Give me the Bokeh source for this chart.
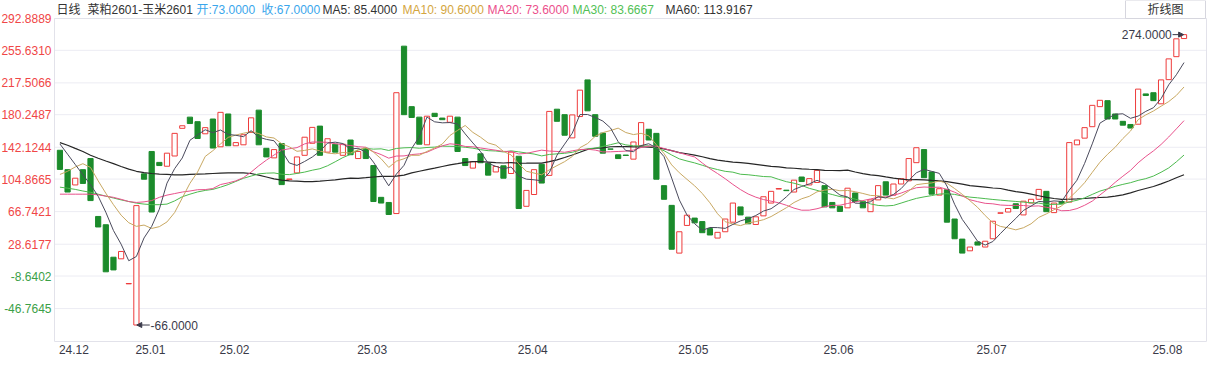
import numpy as np
import pandas as pd
from bokeh.plotting import figure
from bokeh.models import (ColumnDataSource, Range1d, LabelSet, Label, Arrow,
                          NormalHead)
from bokeh.core.properties import value
from bokeh.embed import file_html
from bokeh.resources import INLINE

# ---------------- data ----------------
opens = [138.6, 115.9, 98.0, 115.9, 128.9, 61.1, 51.4, 13.4, 11.5, -17.8,
         -66.0, 111.0, 137.2, 124.4, 119.9, 131.9, 164.3, 177.4, 172.1, 157.9,
         175.2, 142.7, 181.1, 143.9, 145.0, 159.5, 185.6, 140.9, 129.7, 146.5,
         104.2, 112.1, 132.7, 146.8, 166.9, 136.4, 145.7, 132.7, 150.6, 128.9,
         140.9, 120.7, 83.5, 77.5, 64.5, 260.5, 189.7, 177.4, 145.0, 181.9,
         176.3, 171.4, 177.4, 128.9, 117.7, 134.5, 123.3, 113.2, 120.4, 111.4,
         131.6, 73.0, 86.8, 122.2, 109.2, 186.7, 180.3, 153.1, 178.1, 221.0,
         180.3, 158.7, 140.2, 133.3, 133.0, 128.2, 143.9, 163.2, 158.4, 97.2,
         74.1, 18.2, 50.6, 59.2, 55.1, 46.9, 35.8, 43.2, 54.4, 72.3,
         60.3, 51.7, 61.8, 76.8, 93.2, 91.9, 89.7, 107.3, 98.0, 100.9,
         97.2, 77.5, 73.0, 71.2, 88.6, 78.6, 66.7, 80.5, 101.7, 86.1,
         99.1, 102.8, 124.1, 139.4, 113.2, 86.1, 92.4, 58.1, 34.6, 20.9,
         31.3, 25.3, 35.0, 64.8, 66.3, 76.0, 62.9, 76.8, 81.2, 90.5,
         65.6, 78.6, 77.9, 145.0, 152.8, 166.2, 189.7, 196.7, 181.1, 172.5,
         168.8, 169.1, 204.6, 206.0, 193.0, 221.3, 248.2, 269.4]
closes = [116.2, 89.7, 105.9, 99.8, 79.7, 48.8, -3.7, -1.5, 20.1, -17.4,
          73.8, 104.7, 66.3, 120.7, 135.2, 158.4, 167.3, 169.9, 152.4, 165.1,
          141.2, 183.0, 143.9, 147.6, 156.8, 176.6, 145.0, 130.8, 139.4, 98.4,
          105.0, 130.8, 153.9, 165.4, 132.7, 152.1, 136.4, 145.7, 133.4, 137.2,
          128.9, 78.6, 76.8, 63.4, 206.0, 180.3, 177.0, 145.7, 178.5, 178.1,
          174.4, 178.5, 137.2, 120.7, 125.2, 124.0, 109.5, 119.6, 105.9, 136.4,
          70.4, 91.6, 115.9, 100.2, 184.1, 172.5, 156.2, 180.0, 209.0, 184.8,
          155.0, 135.2, 139.8, 128.9, 132.5, 148.3, 171.0, 150.6, 104.7, 81.2,
          22.7, 43.2, 62.6, 53.6, 42.1, 39.4, 42.5, 58.1, 76.8, 62.9,
          52.5, 60.7, 84.2, 90.5, 93.8, 91.3, 103.6, 102.0, 105.4, 115.1,
          72.3, 71.2, 67.0, 94.2, 78.6, 71.2, 80.5, 97.2, 86.1, 99.1,
          105.4, 128.9, 141.6, 106.5, 87.2, 93.6, 54.4, 35.0, 18.2, 25.3,
          27.6, 32.1, 55.5, 65.4, 70.4, 70.4, 79.0, 81.2, 92.8, 66.7,
          76.8, 76.0, 147.6, 150.6, 165.1, 191.2, 197.1, 175.2, 175.2, 168.0,
          164.6, 210.2, 202.7, 196.7, 221.0, 245.6, 269.1, 274.0]

# moving-average values before a full window exists
ma5_head = [146.0, 134.0, 122.0, 110.0]
ma10_head = [110.3, 114.0, 119.0, 122.9, 118.5, 102.8, 88.3, 74.9, 62.6]
ma20_head = [87.2, 87.2, 87.2, 87.2, 87.2, 86.4, 84.9, 83.5, 81.2, 78.6,
             77.5, 78.2, 79.7, 83.5, 86.1, 87.9, 89.7, 90.9, 92.4]
ma30_head = [95.4, 94.2, 92.8, 90.9, 89.4, 87.2, 84.9, 82.7, 80.5, 78.6,
             76.7, 75.6, 74.9, 74.9, 75.6, 79.3, 84.2, 87.2, 89.8, 91.6,
             92.8, 95.4, 98.4, 102.1, 105.8, 108.4, 111.0, 111.8, 112.1]
ma60_head = [147.5, 144.5, 140.8, 137.2, 132.7, 129.3, 126.0, 122.9, 119.6, 116.6,
             114.0, 112.5, 111.4, 110.7, 110.3, 109.9, 109.9, 110.3, 110.7, 111.0,
             111.4, 111.8, 112.1, 112.1, 112.1, 111.4, 109.5, 107.3, 105.1, 103.6,
             102.8, 102.4, 102.0, 102.0, 102.4, 103.2, 104.0, 105.1, 105.9, 105.8,
             106.5, 107.3, 108.1, 108.1, 108.4, 109.5, 112.1, 114.0, 115.9, 117.7,
             119.6, 121.5, 122.9, 124.4, 125.2, 125.2, 124.8, 124.1, 123.7]

xtick_idx = [0, 10, 21, 39, 60, 81, 100, 120, 143]
xtick_labels = ["24.12", "25.01", "25.02", "25.03", "25.04", "25.05", "25.06", "25.07", "25.08"]
ytick_vals = [292.8889, 255.6310, 217.5066, 180.2487, 142.1244, 104.8665,
              66.7421, 28.6177, -8.6402, -46.7645]

header_texts = ["日线", "菜粕2601-玉米2601", "开:73.0000", "收:67.0000", "MA5: 85.4000",
                "MA10: 90.6000", "MA20: 73.6000", "MA30: 83.6667", "MA60: 113.9167"]

# ---------------- styles / layout ----------------
header_colors = ["#333333", "#333333", "#3aa6ec", "#3aa6ec", "#333333",
                 "#d4a63e", "#ec4f8c", "#52bf56", "#333333"]
header_offsets_px = [2, 33, 142, 207, 268, 348, 433, 518, 611]

RED = "#ee3b3b"
GREEN = "#1b8b2b"
MA_COLORS = {"ma5": "#4a4a5c", "ma10": "#c8a862", "ma20": "#e8528c",
             "ma30": "#4cba4e", "ma60": "#262626"}
FONT_STR = "'Liberation Sans', 'Noto Sans CJK SC', sans-serif"
FONT = value(FONT_STR)

W, H = 1208, 357
BL, BR, BT, BB = 54, 2, 18, 16          # room around the plot area (px)
FW, FH = W - BL - BR, H - BT - BB
X0, X1 = -0.71, 149.94                  # plot-area extent in candle units
Y0, Y1 = -85.3, 292.8889                # plot-area extent in value units
PXX = (X1 - X0) / FW
PXY = (Y1 - Y0) / FH

# the frame covers the whole canvas; the plot area is drawn inside it
p = figure(width=W, height=H,
           x_range=Range1d(X0 - BL * PXX, X1 + BR * PXX),
           y_range=Range1d(Y0 - BB * PXY, Y1 + BT * PXY),
           x_axis_type=None, y_axis_type=None, toolbar_location=None,
           output_backend="svg", min_border=0,
           min_border_left=0, min_border_right=0, min_border_top=0, min_border_bottom=0)
p.outline_line_color = None
p.background_fill_color = "white"
p.border_fill_color = "white"
p.xgrid.visible = False
p.ygrid.visible = False

# horizontal grid lines across the plot area
p.segment(x0=[X0] * len(ytick_vals), x1=[X1] * len(ytick_vals), y0=ytick_vals, y1=ytick_vals,
          line_color="#ececf3", line_width=1)
# plot-area border
p.quad(left=[X0], right=[X1], bottom=[Y0], top=[Y1], fill_color=None,
       line_color="#e2e2ea", line_width=1)

o = np.array(opens, dtype=float)
c = np.array(closes, dtype=float)
idx = np.arange(len(o))
up = c >= o

src_up = ColumnDataSource(dict(x=idx[up], top=np.maximum(o, c)[up], bottom=np.minimum(o, c)[up]))
src_dn = ColumnDataSource(dict(x=idx[~up], top=np.maximum(o, c)[~up], bottom=np.minimum(o, c)[~up]))
p.vbar(x="x", top="top", bottom="bottom", width=0.68, source=src_up,
       fill_color="white", line_color=RED, line_width=1)
p.vbar(x="x", top="top", bottom="bottom", width=0.68, source=src_dn,
       fill_color=GREEN, line_color=GREEN, line_width=1)

cl = pd.Series(closes, dtype=float)


def moving_avg(n, head):
    s = cl.rolling(n).mean().to_numpy()
    s[:len(head)] = head
    return s


ma_src = ColumnDataSource(dict(
    x=idx,
    ma5=moving_avg(5, ma5_head),
    ma10=moving_avg(10, ma10_head),
    ma20=moving_avg(20, ma20_head),
    ma30=moving_avg(30, ma30_head),
    ma60=moving_avg(60, ma60_head),
))
for key in ["ma60", "ma30", "ma20", "ma10", "ma5"]:
    p.line("x", key, source=ma_src, line_color=MA_COLORS[key],
           line_width=1.2 if key == "ma60" else 1)

# y tick labels (red positive, green negative)
ylab_src = ColumnDataSource(dict(
    x=[X0 - 3 * PXX] * len(ytick_vals), y=ytick_vals,
    text=[f"{v:.4f}" for v in ytick_vals],
    color=["#f04646" if v > 0 else "#3ba047" for v in ytick_vals]))
p.add_layout(LabelSet(x="x", y="y", text="text", source=ylab_src, text_color="color",
                      text_align="right", text_baseline="middle",
                      text_font=FONT, text_font_size="12px"))

# x tick labels
xl = np.maximum(np.array(xtick_idx, dtype=float) - 1 * PXX, X0 + 1 * PXX)
xlab_src = ColumnDataSource(dict(x=xl, y=[Y0 - 3 * PXY] * len(xl), text=xtick_labels))
p.add_layout(LabelSet(x="x", y="y", text="text", source=xlab_src, text_color="#3a3a48",
                      text_align="left", text_baseline="top",
                      text_font=FONT, text_font_size="12px"))

# header line
hdr_src = ColumnDataSource(dict(
    x=[X0 + d * PXX for d in header_offsets_px], y=[Y1 + 9 * PXY] * len(header_texts),
    text=header_texts, color=header_colors))
p.add_layout(LabelSet(x="x", y="y", text="text", source=hdr_src, text_color="color",
                      text_align="left", text_baseline="middle",
                      text_font=FONT, text_font_size="12px"))

# "折线图" button
p.add_layout(Label(x=X1 - 41 * PXX, y=Y1 + 9 * PXY, text="折线图", text_align="center",
                   text_baseline="middle", text_font=FONT_STR, text_font_size="12px",
                   text_color="#333333", background_fill_color="white",
                   border_line_color="#d6d6de",
                   padding=dict(left=22, right=22, top=2, bottom=2)))

# min / max markers
lows = np.minimum(o, c)
highs = np.maximum(o, c)
imin = int(np.argmin(lows))
imax = int(np.argmax(highs))
ANN = "#3a3a4a"
p.add_layout(Arrow(x_start=imin + 1.75, y_start=lows[imin], x_end=imin + 0.05, y_end=lows[imin],
                   end=NormalHead(size=5, fill_color=ANN, line_color=ANN),
                   line_color=ANN, line_width=1))
p.add_layout(Label(x=imin + 1.85, y=lows[imin], text=f"{lows[imin]:.4f}", text_align="left",
                   text_baseline="middle", text_font=FONT_STR, text_font_size="12px",
                   text_color=ANN))
p.add_layout(Arrow(x_start=imax - 1.5, y_start=highs[imax], x_end=imax - 0.05, y_end=highs[imax],
                   end=NormalHead(size=5, fill_color=ANN, line_color=ANN),
                   line_color=ANN, line_width=1))
p.add_layout(Label(x=imax - 1.6, y=highs[imax], text=f"{highs[imax]:.4f}", text_align="right",
                   text_baseline="middle", text_font=FONT_STR, text_font_size="12px",
                   text_color=ANN))

open("out.html", "w").write(file_html(p, INLINE))
